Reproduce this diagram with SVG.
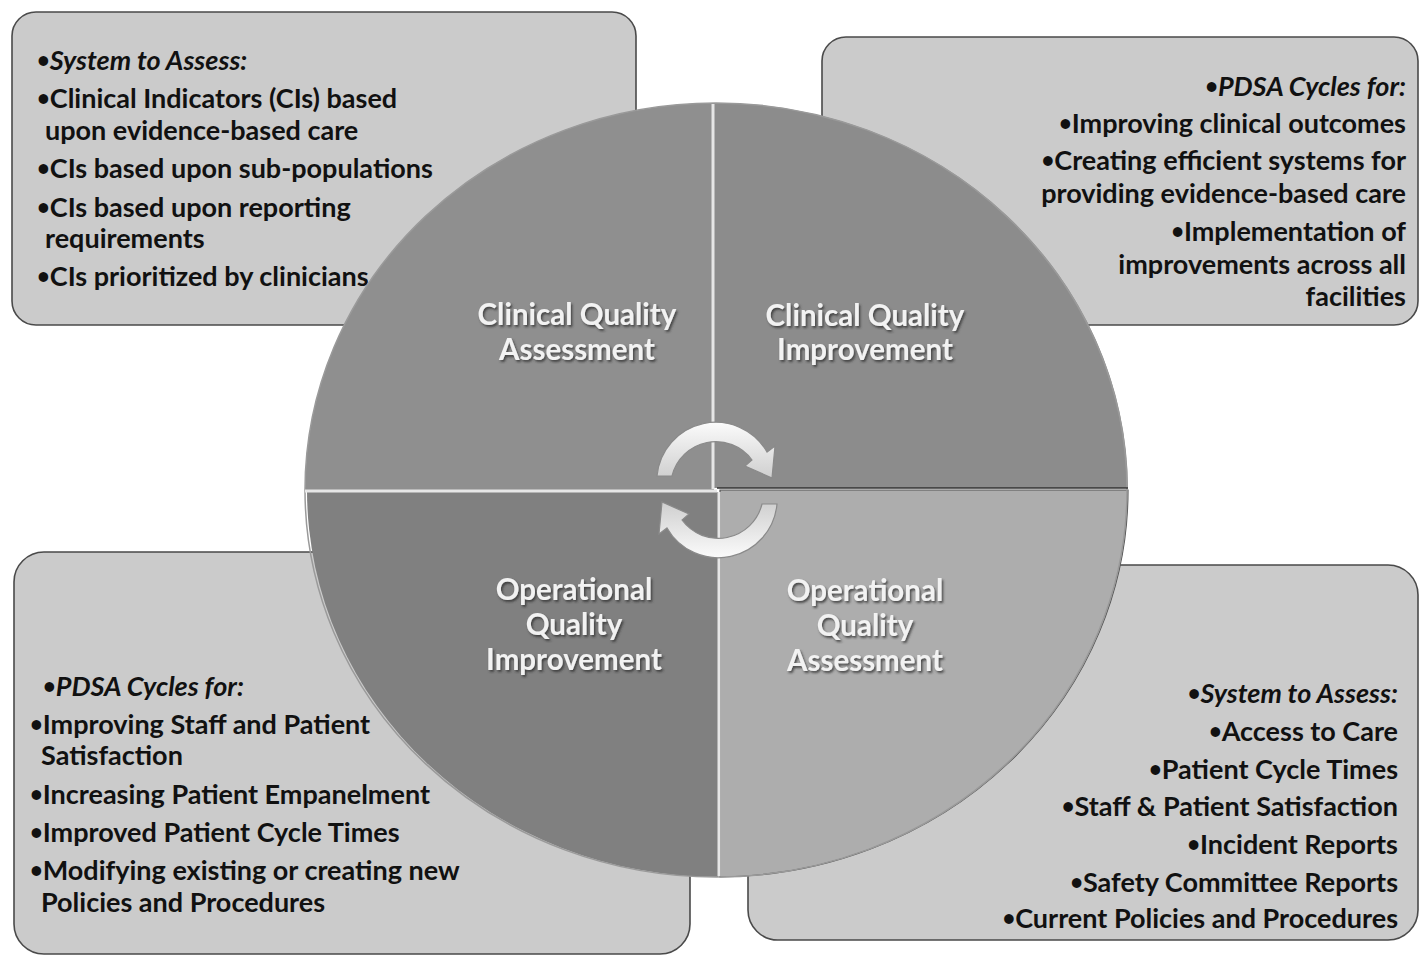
<svg xmlns="http://www.w3.org/2000/svg" width="1421" height="957" viewBox="0 0 1421 957">
<defs>
<style>
.box{fill:#cbcbcb;stroke:#4a4a4a;stroke-width:1.6}
.bt{font-family:Lato,"Liberation Sans",sans-serif;font-weight:bold;font-size:27px;fill:#111}
.it{font-style:italic}
.r{text-anchor:end}
.b{font-size:22px;baseline-shift:2px}
.cl{font-family:Lato,"Liberation Sans",sans-serif;font-weight:bold;font-size:29.5px;fill:#f2f2f2;text-anchor:middle;filter:url(#sh)}
.q1{fill:#8f8f8f}
.q2{fill:#8c8c8c}
.q3{fill:#808080}
.q4{fill:#adadad}
.div{stroke:#e6e6e6;stroke-width:3;fill:none}
.arr{fill:url(#ag);stroke:#8a8a8a;stroke-width:1.2}
</style>
<filter id="sh" x="-10%" y="-20%" width="120%" height="150%">
<feDropShadow dx="1.5" dy="2" stdDeviation="1" flood-color="#333" flood-opacity="0.8"/>
</filter>
<linearGradient id="ag" x1="0" y1="0" x2="0" y2="1">
<stop offset="0" stop-color="#fbfbfb"/>
<stop offset="1" stop-color="#cfcfcf"/>
</linearGradient>
</defs>
<rect width="1421" height="957" fill="#ffffff"/>

<g id="box-tl">
<rect class="box" x="12" y="12" width="624" height="313" rx="24"/>
<text class="bt it" x="37" y="70"><tspan class="b">•</tspan>System to Assess:</text>
<text class="bt" x="37" y="108"><tspan class="b">•</tspan>Clinical Indicators (CIs) based</text>
<text class="bt" x="45" y="140">upon evidence-based care</text>
<text class="bt" x="37" y="178"><tspan class="b">•</tspan>CIs based upon sub-populations</text>
<text class="bt" x="37" y="217"><tspan class="b">•</tspan>CIs based upon reporting</text>
<text class="bt" x="45" y="248">requirements</text>
<text class="bt" x="37" y="286"><tspan class="b">•</tspan>CIs prioritized by clinicians</text>
</g>

<g id="box-tr">
<rect class="box" x="822" y="37" width="596" height="288" rx="24"/>
<text class="bt it r" x="1406" y="96"><tspan class="b">•</tspan>PDSA Cycles for:</text>
<text class="bt r" x="1406" y="133"><tspan class="b">•</tspan>Improving clinical outcomes</text>
<text class="bt r" x="1406" y="170"><tspan class="b">•</tspan>Creating efficient systems for</text>
<text class="bt r" x="1406" y="203">providing evidence-based care</text>
<text class="bt r" x="1406" y="241"><tspan class="b">•</tspan>Implementation of</text>
<text class="bt r" x="1406" y="274">improvements across all</text>
<text class="bt r" x="1406" y="306">facilities</text>
</g>

<g id="box-bl">
<rect class="box" x="14" y="552" width="676" height="402" rx="30"/>
<text class="bt it" x="43" y="696"><tspan class="b">•</tspan>PDSA Cycles for:</text>
<text class="bt" x="30" y="734"><tspan class="b">•</tspan>Improving Staff and Patient</text>
<text class="bt" x="41" y="765">Satisfaction</text>
<text class="bt" x="30" y="804"><tspan class="b">•</tspan>Increasing Patient Empanelment</text>
<text class="bt" x="30" y="842"><tspan class="b">•</tspan>Improved Patient Cycle Times</text>
<text class="bt" x="30" y="880"><tspan class="b">•</tspan>Modifying existing or creating new</text>
<text class="bt" x="41" y="912">Policies and Procedures</text>
</g>

<g id="box-br">
<rect class="box" x="748" y="565" width="670" height="375" rx="30"/>
<text class="bt it r" x="1398" y="703"><tspan class="b">•</tspan>System to Assess:</text>
<text class="bt r" x="1398" y="741"><tspan class="b">•</tspan>Access to Care</text>
<text class="bt r" x="1398" y="779"><tspan class="b">•</tspan>Patient Cycle Times</text>
<text class="bt r" x="1398" y="816"><tspan class="b">•</tspan>Staff &amp; Patient Satisfaction</text>
<text class="bt r" x="1398" y="854"><tspan class="b">•</tspan>Incident Reports</text>
<text class="bt r" x="1398" y="892"><tspan class="b">•</tspan>Safety Committee Reports</text>
<text class="bt r" x="1398" y="928"><tspan class="b">•</tspan>Current Policies and Procedures</text>
</g>

<g id="quad-cqa">
<path class="q1" d="M714,490 L305,490 A411,387 0 0 1 714,103 Z"/>
<text class="cl" x="577" y="325">Clinical Quality</text>
<text class="cl" x="577" y="360">Assessment</text>
</g>
<g id="quad-cqi">
<path class="q2" d="M714,488 L714,103 A411,387 0 0 1 1128,488 Z"/>
<text class="cl" x="865" y="326">Clinical Quality</text>
<text class="cl" x="865" y="360">Improvement</text>
</g>
<g id="quad-oqi">
<path class="q3" d="M718,492 L718,877 A411,387 0 0 1 307,492 Z"/>
<text class="cl" x="574" y="600">Operational</text>
<text class="cl" x="574" y="635">Quality</text>
<text class="cl" x="574" y="670">Improvement</text>
</g>
<g id="quad-oqa">
<path class="q4" d="M720,490 L1128,490 A411,387 0 0 1 720,877 Z" stroke="#555" stroke-width="1.2"/>
<text class="cl" x="865" y="601">Operational</text>
<text class="cl" x="865" y="636">Quality</text>
<text class="cl" x="865" y="671">Assessment</text>
</g>
<g id="dividers">
<ellipse cx="716" cy="490" rx="411" ry="387" fill="none" stroke="#9a9a9a" stroke-width="1.5"/>
<line class="div" x1="713" y1="104" x2="713" y2="489"/>
<line class="div" x1="305" y1="491" x2="717" y2="491"/>
<line class="div" x1="719" y1="492" x2="719" y2="876"/>
<line x1="717" y1="488" x2="1128" y2="488" stroke="#333" stroke-width="1.5"/>
</g>

<g id="connectors">
<path class="arr" d="M657,476 A59,59 0 0 1 767,452 L775,446 L772,478 L745,466 L752,460 A45,45 0 0 0 672,476 Z"/>
<path class="arr" transform="rotate(180 717 490)" d="M657,476 A59,59 0 0 1 767,452 L775,446 L772,478 L745,466 L752,460 A45,45 0 0 0 672,476 Z"/>
</g>
</svg>
